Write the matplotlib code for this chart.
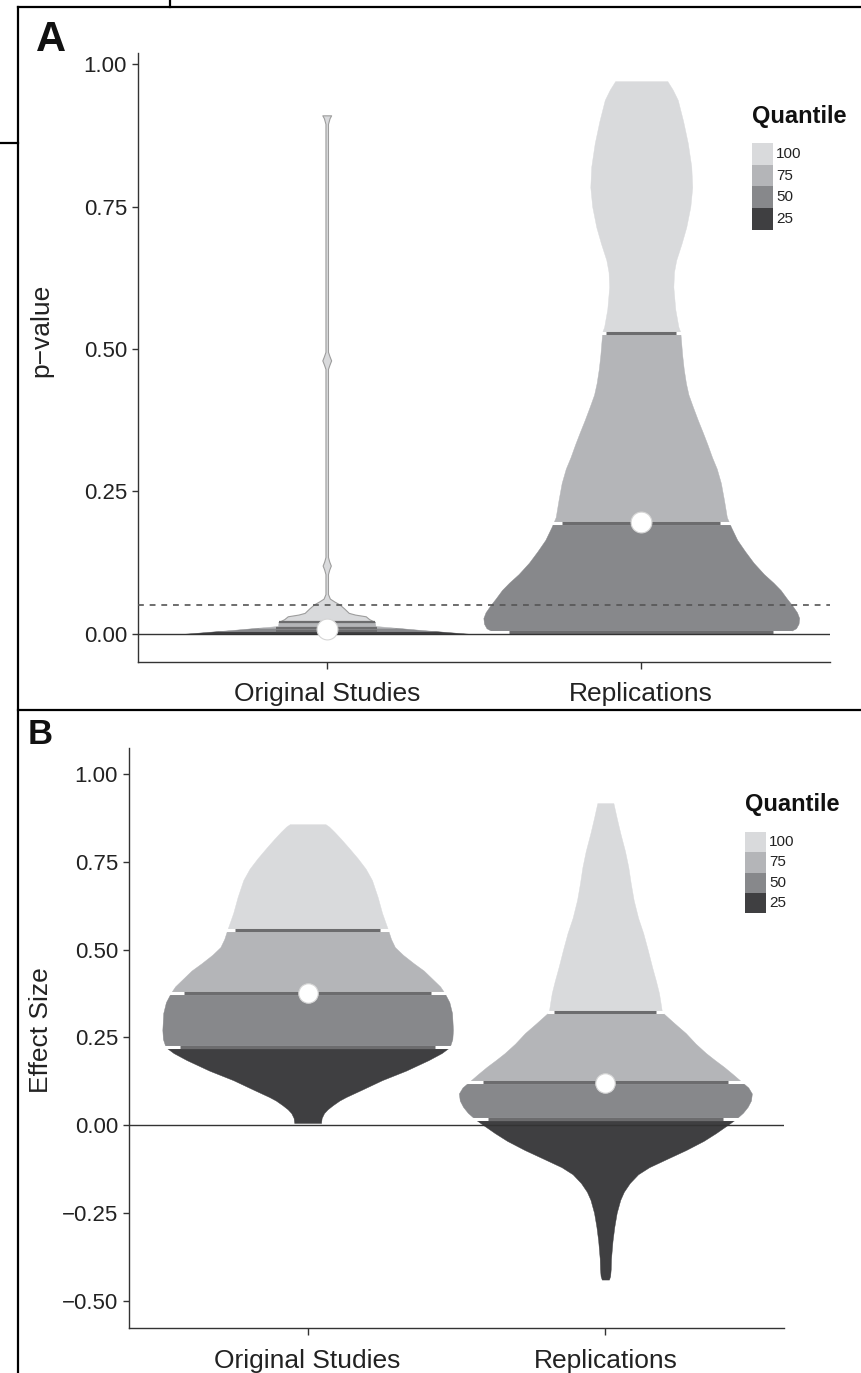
import matplotlib.pyplot as plt
import numpy as np
from matplotlib.patches import Rectangle
from matplotlib.lines import Line2D

plt.rcParams['font.family'] = ['Liberation Sans', 'DejaVu Sans']

W, H = 861, 1373

groups = ['Original Studies', 'Replications']
quantile_labels = ['100', '75', '50', '25']
band_colors = ['#d9dadc', '#b4b5b8', '#87888b', '#3f3f41']   # 100, 75, 50, 25

# ---- panel A: p-values (value, violin half width in category units)
pA_orig_val = [0.0, 0.007, 0.014, 0.021, 0.026, 0.031, 0.034, 0.037, 0.045, 0.052,
               0.057, 0.062, 0.07, 0.105, 0.113, 0.12, 0.127, 0.135, 0.465, 0.473,
               0.48, 0.487, 0.495, 0.895, 0.905, 0.91]
pA_orig_w = [0.46, 0.30, 0.155, 0.153, 0.135, 0.124, 0.09, 0.07, 0.055, 0.04,
             0.024, 0.01, 0.004, 0.004, 0.008, 0.013, 0.008, 0.004, 0.004, 0.009,
             0.014, 0.009, 0.004, 0.004, 0.009, 0.014]
pA_orig_q = [0.005, 0.011, 0.021]
pA_orig_pt = 0.009

pA_rep_val = [0.002, 0.005, 0.01, 0.018, 0.028, 0.038, 0.05, 0.062, 0.077, 0.09,
              0.105, 0.125, 0.145, 0.165, 0.188, 0.205, 0.235, 0.265, 0.29, 0.31,
              0.333, 0.353, 0.375, 0.40, 0.42, 0.44, 0.465, 0.49, 0.53, 0.539,
              0.57, 0.609, 0.635, 0.656, 0.685, 0.714, 0.75, 0.784, 0.82, 0.861,
              0.90, 0.937, 0.955, 0.97]
pA_rep_w = [0.45, 0.475, 0.492, 0.50, 0.502, 0.495, 0.48, 0.463, 0.443, 0.42,
            0.39, 0.357, 0.33, 0.305, 0.285, 0.272, 0.263, 0.253, 0.24, 0.225,
            0.21, 0.196, 0.18, 0.163, 0.15, 0.142, 0.135, 0.13, 0.124, 0.118,
            0.108, 0.102, 0.104, 0.111, 0.128, 0.143, 0.156, 0.162, 0.159, 0.148,
            0.133, 0.116, 0.10, 0.083]
pA_rep_q = [0.004, 0.195, 0.528]
pA_rep_pt = 0.197

# ---- panel B: effect sizes
eB_orig_val = [0.006, 0.02, 0.034, 0.045, 0.057, 0.07, 0.08, 0.10, 0.128, 0.155,
               0.185, 0.205, 0.222, 0.245, 0.271, 0.319, 0.35, 0.376, 0.395, 0.413,
               0.44, 0.461, 0.485, 0.507, 0.53, 0.556, 0.604, 0.65, 0.698, 0.73,
               0.76, 0.79, 0.815, 0.835, 0.85, 0.857]
eB_orig_w = [0.045, 0.047, 0.055, 0.067, 0.085, 0.107, 0.129, 0.18, 0.25, 0.33,
             0.406, 0.45, 0.477, 0.486, 0.488, 0.485, 0.476, 0.46, 0.445, 0.423,
             0.39, 0.356, 0.32, 0.293, 0.28, 0.27, 0.25, 0.235, 0.216, 0.195,
             0.168, 0.138, 0.112, 0.09, 0.072, 0.06]
eB_orig_q = [0.222, 0.376, 0.556]
eB_orig_pt = 0.376

eB_rep_val = [-0.44, -0.43, -0.41, -0.38, -0.33, -0.29, -0.25, -0.213, -0.19, -0.165,
              -0.14, -0.12, -0.095, -0.071, -0.045, -0.023, 0.0, 0.017, 0.035, 0.052,
              0.07, 0.09, 0.107, 0.123, 0.145, 0.166, 0.185, 0.205, 0.232, 0.262,
              0.29, 0.322, 0.35, 0.376, 0.41, 0.45, 0.50, 0.547, 0.59, 0.641,
              0.69, 0.735, 0.78, 0.832, 0.875, 0.917]
eB_rep_w = [0.012, 0.016, 0.018, 0.019, 0.024, 0.03, 0.038, 0.05, 0.062, 0.082,
            0.11, 0.147, 0.21, 0.271, 0.33, 0.371, 0.41, 0.438, 0.462, 0.478,
            0.489, 0.492, 0.48, 0.458, 0.428, 0.398, 0.368, 0.338, 0.303, 0.27,
            0.232, 0.19, 0.185, 0.18, 0.17, 0.157, 0.142, 0.127, 0.11, 0.095,
            0.085, 0.077, 0.066, 0.05, 0.038, 0.027]
eB_rep_q = [0.017, 0.123, 0.322]
eB_rep_pt = 0.12


def fx(px):
    return px / W


def fy(py):
    return 1 - py / H


def draw_violin(ax, xc, vals, widths, quants, point, ms, thin=False):
    vals = np.asarray(vals)
    widths = np.asarray(widths)
    edges = [vals[0]] + list(quants) + [vals[-1]]
    cols = band_colors[::-1]
    for k in range(4):
        lo, hi = edges[k], edges[k + 1]
        inside = (vals > lo) & (vals < hi)
        ys = np.concatenate([[lo], vals[inside], [hi]])
        ws = np.interp(ys, vals, widths)
        ec = '#9d9d9d' if (thin and k == 3) else cols[k]
        ax.fill_betweenx(ys, xc - ws, xc + ws, facecolor=cols[k], edgecolor=ec,
                         lw=0.8 if (thin and k == 3) else 0.3, zorder=2)
    for q in quants:
        w = np.interp(q, vals, widths)
        if thin:
            w = min(w, 0.16)
            ax.plot([xc - w, xc + w], [q, q], color='#6c6c6e', lw=1.6,
                    solid_capstyle='butt', zorder=3)
            continue
        ax.plot([xc - w * 1.03, xc + w * 1.03], [q, q], color='white', lw=2.2,
                solid_capstyle='butt', zorder=3)
        ax.plot([xc - w * 0.9, xc + w * 0.9], [q, q], color='#6c6c6e', lw=2.2,
                solid_capstyle='butt', zorder=3)
    ax.plot(xc, point, 'o', ms=ms, mfc='white', mec='#d5d5d5', mew=0.8, zorder=6)


def style_axes(ax, ylabel, yticks, ylabels, ylim):
    ax.set_xlim(0.4, 2.6)
    ax.set_ylim(*ylim)
    for s in ['top', 'right']:
        ax.spines[s].set_visible(False)
    for s in ['left', 'bottom']:
        ax.spines[s].set_color('#333333')
        ax.spines[s].set_linewidth(1.0)
    ax.set_yticks(yticks)
    ax.set_yticklabels(ylabels)
    ax.set_xticks([1, 2])
    ax.set_xticklabels(groups)
    ax.tick_params(axis='y', length=4, width=1, color='#333333', labelsize=16,
                   pad=4, labelcolor='#222222')
    ax.tick_params(axis='x', length=5, width=1, color='#333333', labelsize=19,
                   pad=10, labelcolor='#222222')
    ax.set_ylabel(ylabel, fontsize=19, color='#222222')
    ax.set_facecolor('none')


def draw_legend(fig, x, y_title, y_key, key_h):
    fig.text(fx(x), fy(y_title), 'Quantile', fontsize=17, fontweight='bold',
             ha='left', va='center', color='#111111')
    for i, lab in enumerate(quantile_labels):
        top = y_key + i * key_h
        fig.add_artist(Rectangle((fx(x), fy(top + key_h)), 21 / W, key_h / H,
                                 transform=fig.transFigure, facecolor=band_colors[i],
                                 edgecolor='none'))
        fig.text(fx(x + 24), fy(top + key_h / 2), lab, fontsize=11, ha='left',
                 va='center', color='#222222')


fig = plt.figure(figsize=(W / 100, H / 100), dpi=100)

# panel A
axA = fig.add_axes([fx(138), fy(661.6), (830 - 138) / W, (661.6 - 53.5) / H])
draw_violin(axA, 1, pA_orig_val, pA_orig_w, pA_orig_q, pA_orig_pt, 15, thin=True)
draw_violin(axA, 2, pA_rep_val, pA_rep_w, pA_rep_q, pA_rep_pt, 15)
axA.axhline(0, color='#333333', lw=1.0, zorder=4)
axA.axhline(0.05, color='#555555', lw=1.2, ls=(0, (3.5, 3.5)), zorder=4)
style_axes(axA, 'p\u2212value', [0, 0.25, 0.5, 0.75, 1.0],
           ['0.00', '0.25', '0.50', '0.75', '1.00'], (-0.0485, 1.0185))
axA.yaxis.set_label_coords(-0.123, 0.545)

# panel B
axB = fig.add_axes([fx(129), fy(1328), (784 - 129) / W, (1328 - 748) / H])
draw_violin(axB, 1, eB_orig_val, eB_orig_w, eB_orig_q, eB_orig_pt, 14)
draw_violin(axB, 2, eB_rep_val, eB_rep_w, eB_rep_q, eB_rep_pt, 14)
axB.axhline(0, color='#333333', lw=1.0, zorder=4)
style_axes(axB, 'Effect Size', [-0.5, -0.25, 0, 0.25, 0.5, 0.75, 1.0],
           ['\u22120.50', '\u22120.25', '0.00', '0.25', '0.50', '0.75', '1.00'],
           (-0.578, 1.074))
axB.yaxis.set_label_coords(-0.116, 0.514)

draw_legend(fig, 752, 116, 143, 21.75)
draw_legend(fig, 745, 805, 832, 20.3)

# panel letters
fig.text(fx(51), fy(40), 'A', fontsize=30, fontweight='bold', ha='center',
         va='center', color='#111111')
fig.text(fx(40), fy(735), 'B', fontsize=25, fontweight='bold', ha='center',
         va='center', color='#111111')

# page frame lines
frame = [((18, 7), (861, 7)), ((18, 7), (18, 1373)), ((18, 710), (861, 710)),
         ((0, 143), (18, 143)), ((170, 0), (170, 7))]
for (x0, y0), (x1, y1) in frame:
    fig.add_artist(Line2D([fx(x0), fx(x1)], [fy(y0), fy(y1)], color='black',
                          lw=1.6, transform=fig.transFigure))

fig.savefig('out.png', dpi=100)
